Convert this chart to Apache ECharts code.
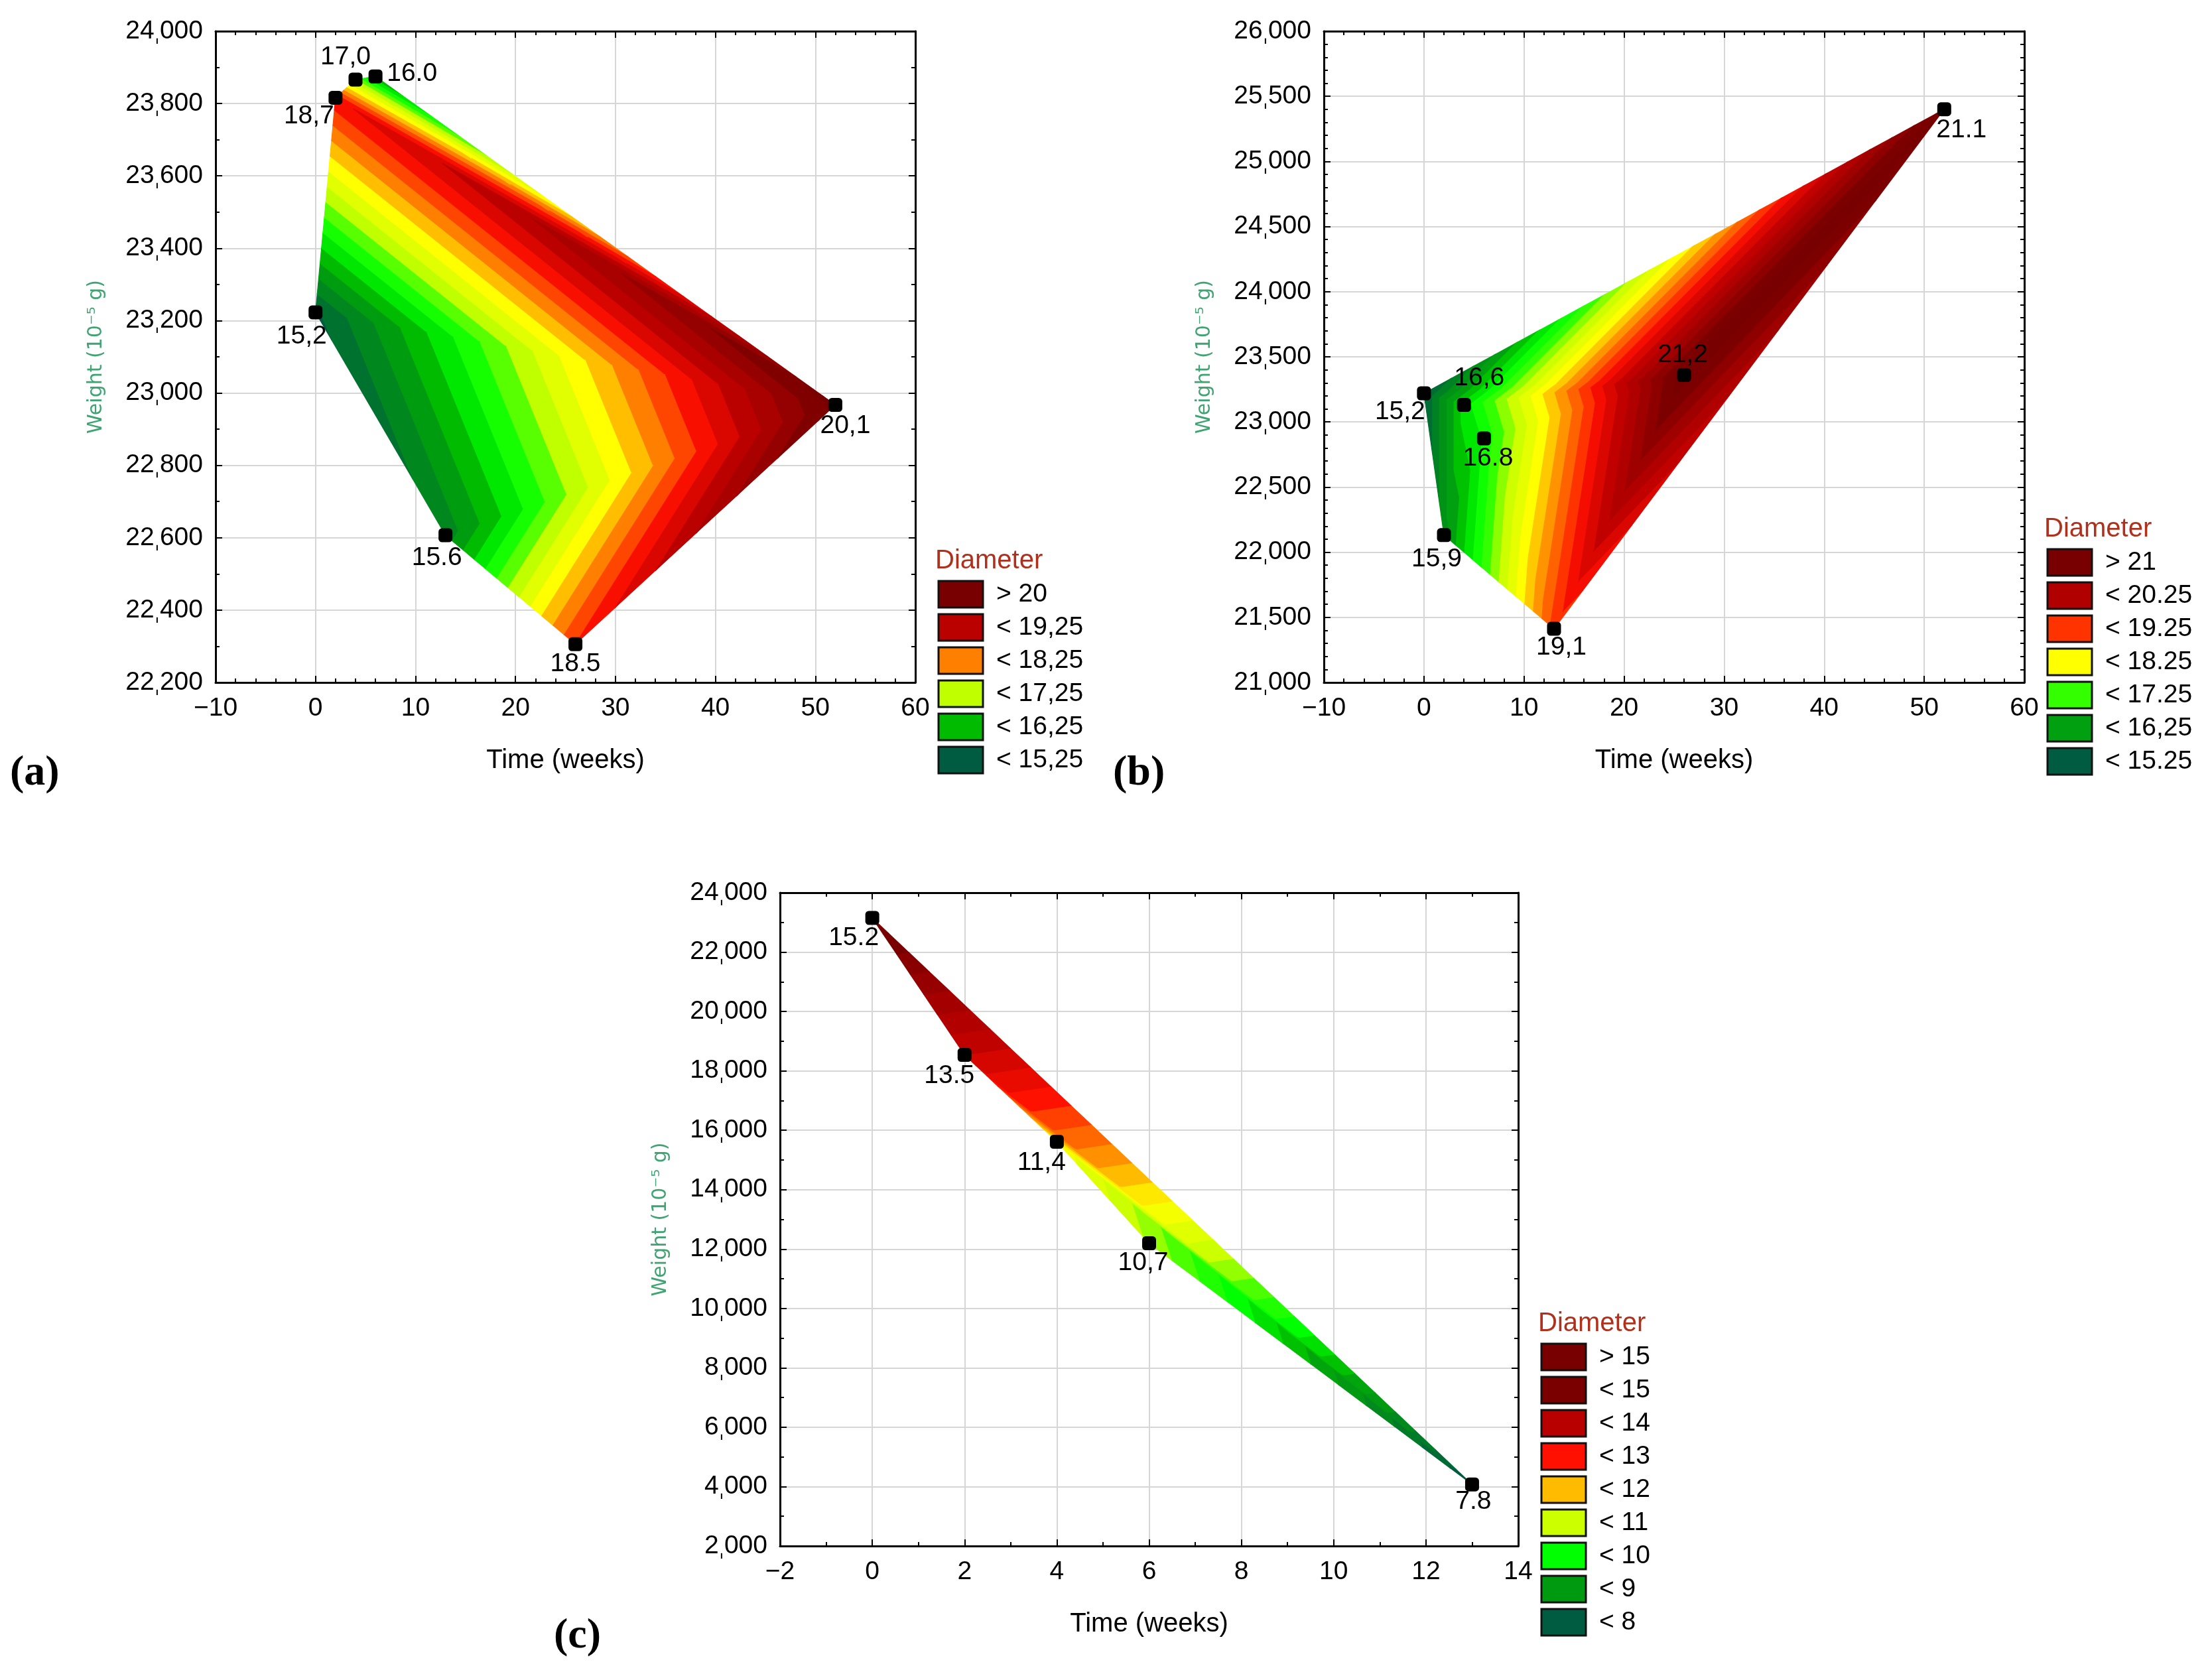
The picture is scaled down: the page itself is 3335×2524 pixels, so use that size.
<!DOCTYPE html>
<html><head><meta charset="utf-8">
<script src="https://cdn.jsdelivr.net/npm/echarts@6/dist/echarts.min.js"></script>
<style>html,body{margin:0;padding:0;background:#fff}#chart{width:3335px;height:2524px}</style>
</head><body><div id="chart"></div>
<script>
// ---------- Panel (a) ----------
const timeA   = [0, 2, 4, 6, 13, 26, 52];
const weightA = [23223, 23816, 23866, 23875, 22607, 22306, 22967];
const diamA   = [15.2, 18.7, 17.0, 16.0, 15.6, 18.5, 20.1];
const labelA  = ['15,2', '18,7', '17,0', '16.0', '15.6', '18.5', '20,1'];
const trianglesA = [[0,1,6],[1,2,6],[2,3,6],[0,4,6],[4,5,6]];
const levelRangeA = [15.25, 20, 0.25];
const legendTextA = ['> 20', '< 19,25', '< 18,25', '< 17,25', '< 16,25', '< 15,25'];
const legendColorA = ['#780000', '#bb0000', '#ff7f00', '#bfff00', '#00bb00', '#005c40'];

// ---------- Panel (b) ----------
const timeB   = [0, 4, 6, 2, 13, 26, 52];
const weightB = [23220, 23131, 22874, 22131, 21412, 23360, 25401];
const diamB   = [15.2, 16.6, 16.8, 15.9, 19.1, 21.2, 21.1];
const labelB  = ['15,2', '16,6', '16.8', '15,9', '19,1', '21,2', '21.1'];
const trianglesB = [[0,5,6],[5,4,6],[0,1,5],[1,2,5],[2,4,5],[0,3,1],[1,3,2],[2,3,4]];
const levelRangeB = [15.25, 21, 0.25];
const legendTextB = ['> 21', '< 20.25', '< 19.25', '< 18.25', '< 17.25', '< 16,25', '< 15.25'];
const legendColorB = ['#780000', '#b00000', '#ff3300', '#ffff00', '#33ff00', '#00a010', '#005c40'];

// ---------- Panel (c) ----------
const timeC   = [0, 2, 4, 6, 13];
const weightC = [23150, 18540, 15615, 12194, 4074];
const diamC   = [15.2, 13.5, 11.4, 10.7, 7.8];
const labelC  = ['15.2', '13.5', '11,4', '10,7', '7.8'];
const trianglesC = [[0,1,4],[1,2,4],[2,3,4]];
const levelRangeC = [8, 15, 0.25];
const legendTextC = ['> 15', '< 15', '< 14', '< 13', '< 12', '< 11', '< 10', '< 9', '< 8'];
const legendColorC = ['#780000', '#7a0000', '#b80000', '#ff1000', '#ffbb00', '#ccff00', '#00ff00', '#009a10', '#005c40'];

// ---------- styling ----------
const rampStops = [[0,'#005c40'],[0.14,'#009a10'],[0.167,'#00a010'],[0.2,'#00bb00'],[0.276,'#00ff00'],
  [0.333,'#33ff00'],[0.4,'#bfff00'],[0.414,'#ccff00'],[0.5,'#ffff00'],[0.552,'#ffbb00'],[0.6,'#ff7f00'],
  [0.667,'#ff3300'],[0.69,'#ff1000'],[0.8,'#bb0000'],[0.833,'#b00000'],[0.966,'#7a0000'],[1,'#780000']];
const labelOffA = [[-21,36],[-40,28],[-15,-34],[55,-4],[-13,34],[0,30],[15,32]];
const labelOffB = [[-36,28],[23,-40],[6,30],[-11,36],[11,28],[-2,-30],[26,32]];
const labelOffC = [[-28,30],[-23,32],[-23,32],[-9,30],[2,26]];
const FONT = 'Liberation Sans, Arial, sans-serif';

function hex2rgb(h){return [parseInt(h.slice(1,3),16),parseInt(h.slice(3,5),16),parseInt(h.slice(5,7),16)];}
function ramp(t){
  for(let i=1;i<rampStops.length;i++){
    if(t<=rampStops[i][0]){
      const [t0,c0]=rampStops[i-1],[t1,c1]=rampStops[i];
      const f=(t-t0)/(t1-t0), a=hex2rgb(c0), b=hex2rgb(c1);
      return 'rgb('+a.map((v,k)=>Math.round(v+f*(b[k]-v))).join(',')+')';
    }
  }
  return rampStops[rampStops.length-1][1];
}
function makeLevels(r){const out=[];for(let v=r[0];v<=r[1]+1e-9;v+=r[2])out.push(+v.toFixed(4));return out;}
function clip(poly, level, above){
  const out=[];
  for(let i=0;i<poly.length;i++){
    const a=poly[i], b=poly[(i+1)%poly.length];
    const ina = above ? a[2]>=level : a[2]<=level;
    const inb = above ? b[2]>=level : b[2]<=level;
    if(ina) out.push(a);
    if(ina!==inb){
      const f=(level-a[2])/(b[2]-a[2]);
      out.push([a[0]+f*(b[0]-a[0]), a[1]+f*(b[1]-a[1]), level]);
    }
  }
  return out;
}
function contourSeries(g, T, W, D, tris, levelRange){
  const levels = makeLevels(levelRange);
  const n = levels.length;
  return {
    type:'custom', coordinateSystem:'cartesian2d', xAxisIndex:2*g, yAxisIndex:2*g, silent:true, z:1,
    data: tris.map((tr,k)=>[(T[tr[0]]+T[tr[1]]+T[tr[2]])/3,(W[tr[0]]+W[tr[1]]+W[tr[2]])/3,k]),
    renderItem:function(params, api){
      const tr = tris[api.value(2)];
      const base = tr.map(i=>[T[i],W[i],D[i]]);
      const children=[];
      for(let b=0;b<=n;b++){
        let p = base;
        if(b>0) p = clip(p, levels[b-1], true);
        if(p.length>=3 && b<n) p = clip(p, levels[b], false);
        if(p.length<3) continue;
        const col = ramp(b/n);
        children.push({type:'polygon', shape:{points:p.map(q=>api.coord([q[0],q[1]]))},
          style:{fill:col, stroke:col, lineWidth:1.2}});
      }
      return {type:'group', children};
    }
  };
}
function pointSeries(g, T, W, labels, offs){
  return {
    type:'scatter', xAxisIndex:2*g, yAxisIndex:2*g, z:5, symbol:'roundRect', symbolSize:21,
    itemStyle:{color:'#000', opacity:1},
    data: T.map((t,i)=>({value:[t,W[i]], label:{offset:offs[i]}})),
    label:{show:true, position:'inside', formatter:p=>labels[p.dataIndex], fontSize:39, color:'#000', fontFamily:FONT},
    emphasis:{disabled:true}
  };
}
function fmtK(v){const s=String(v); if(s.length<=3) return '{n|'+s+'}'; return '{n|'+s.slice(0,s.length-3)+'}{s|\u02CC}{n|'+s.slice(-3)+'}';}
function fmtX(v){return v<0 ? '\u2212'+Math.abs(v) : String(v);}

function axes(g, xr, yr){
  const tickStyle={color:'#000', width:2};
  const xb = {type:'value', gridIndex:g, position:'bottom', min:xr[0], max:xr[1], interval:xr[2],
    axisLine:{show:true, onZero:false, lineStyle:{color:'#000', width:3}},
    axisTick:{show:true, inside:true, length:10, lineStyle:tickStyle},
    minorTick:{show:true, splitNumber:xr[3], length:6, lineStyle:tickStyle},
    splitLine:{show:true, lineStyle:{color:'#d6d6d6', width:2}},
    axisLabel:{fontSize:39, color:'#000', margin:20, fontFamily:FONT, formatter:fmtX},
    name:'Time (weeks)', nameLocation:'middle', nameGap:98,
    nameTextStyle:{fontSize:40, color:'#000', fontFamily:FONT}};
  const xt = {type:'value', gridIndex:g, position:'top', min:xr[0], max:xr[1], interval:xr[2],
    axisLine:{show:true, onZero:false, lineStyle:{color:'#000', width:3}},
    axisTick:{show:true, inside:true, length:10, lineStyle:tickStyle},
    minorTick:{show:true, splitNumber:xr[3], length:6, lineStyle:tickStyle},
    splitLine:{show:false}, axisLabel:{show:false}};
  const yl = {type:'value', gridIndex:g, position:'left', min:yr[0], max:yr[1], interval:yr[2],
    axisLine:{show:true, onZero:false, lineStyle:{color:'#000', width:3}},
    axisTick:{show:true, inside:true, length:10, lineStyle:tickStyle},
    minorTick:{show:true, splitNumber:yr[3], length:6, lineStyle:tickStyle},
    splitLine:{show:true, lineStyle:{color:'#d6d6d6', width:2}},
    axisLabel:{margin:19, formatter:fmtK,
      rich:{n:{fontSize:39, color:'#000', fontFamily:FONT}, s:{fontSize:30, color:'#000', fontFamily:'DejaVu Sans, sans-serif', padding:[14,0,0,0]}}},
    name:'Weight (10\u207B\u2075 g)', nameLocation:'middle', nameRotate:90, nameGap:165,
    nameTextStyle:{fontSize:30, color:'#3fa372', fontFamily:'DejaVu Sans, Verdana, sans-serif'}};
  const yr2 = {type:'value', gridIndex:g, position:'right', min:yr[0], max:yr[1], interval:yr[2],
    axisLine:{show:true, onZero:false, lineStyle:{color:'#000', width:3}},
    axisTick:{show:true, inside:true, length:10, lineStyle:tickStyle},
    minorTick:{show:true, splitNumber:yr[3], length:6, lineStyle:tickStyle},
    splitLine:{show:false}, axisLabel:{show:false}};
  return {x:[xb,xt], y:[yl,yr2]};
}

const axA = axes(0, [-10,60,10,5], [22200,24000,200,2]);
const axB = axes(1, [-10,60,10,5], [21000,26000,500,5]);
const axC = axes(2, [-2,14,2,2], [2000,24000,2000,2]);

function legend(x, y, texts, colors){
  const els=[];
  els.push({type:'text', left:x-5, top:y-50, style:{text:'Diameter', fontSize:40, fill:'#b0301c', fontFamily:FONT}});
  texts.forEach((t,i)=>{
    els.push({type:'rect', shape:{x:x, y:y+i*50, width:67, height:40},
      style:{fill:colors[i], stroke:'#111', lineWidth:3}});
    els.push({type:'text', x:x+87, y:y+i*50+20, style:{text:t, fontSize:39, fill:'#000', fontFamily:FONT, verticalAlign:'middle', align:'left'}});
  });
  return els;
}
function panelLetter(txt, x, y){
  return {type:'text', x:x, y:y, style:{text:txt, fontSize:64, fontWeight:'bold', fill:'#000',
    fontFamily:'Liberation Serif, Times New Roman, serif', verticalAlign:'middle', align:'left'}};
}

const option = {
  animation:false,
  backgroundColor:'#fff',
  grid:[
    {left:325, top:47, width:1055, height:982},
    {left:1996, top:47, width:1056, height:982},
    {left:1176, top:1346, width:1113, height:985}
  ],
  xAxis:[...axA.x, ...axB.x, ...axC.x],
  yAxis:[...axA.y, ...axB.y, ...axC.y],
  series:[
    contourSeries(0, timeA, weightA, diamA, trianglesA, levelRangeA),
    contourSeries(1, timeB, weightB, diamB, trianglesB, levelRangeB),
    contourSeries(2, timeC, weightC, diamC, trianglesC, levelRangeC),
    pointSeries(0, timeA, weightA, labelA, labelOffA),
    pointSeries(1, timeB, weightB, labelB, labelOffB),
    pointSeries(2, timeC, weightC, labelC, labelOffC)
  ],
  graphic:[
    ...legend(1415, 876, legendTextA, legendColorA),
    ...legend(3087, 828, legendTextB, legendColorB),
    ...legend(2324, 2026, legendTextC, legendColorC),
    panelLetter('(a)', 15, 1166),
    panelLetter('(b)', 1678, 1166),
    panelLetter('(c)', 835, 2467)
  ]
};
const chart = echarts.init(document.getElementById('chart'), null, {renderer:'canvas'});
chart.setOption(option);
</script></body></html>
